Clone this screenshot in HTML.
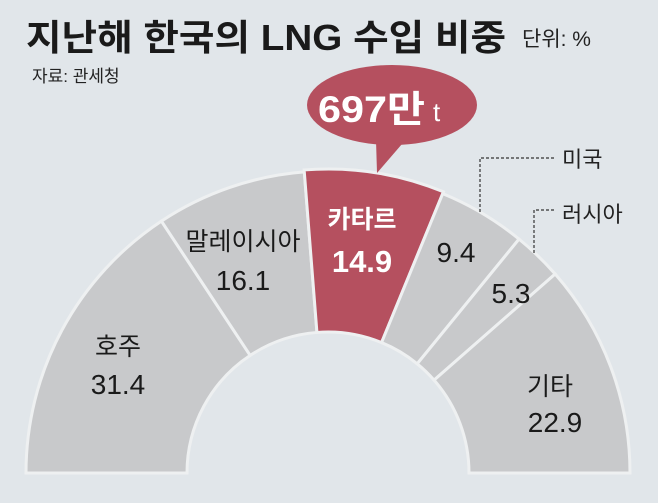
<!DOCTYPE html>
<html><head><meta charset="utf-8"><style>
html,body{margin:0;padding:0;background:#e1e6ea;}
svg{display:block;}
text{font-family:"Liberation Sans","Noto Sans CJK KR",sans-serif;}
</style></head><body>
<svg width="658" height="503" viewBox="0 0 658 503" xmlns="http://www.w3.org/2000/svg">
<rect width="658" height="503" fill="#e1e6ea"/>
<text x="26" y="50" font-size="36" font-weight="bold" fill="#1a1a1a" textLength="480" lengthAdjust="spacingAndGlyphs">지난해 한국의 LNG 수입 비중</text>
<text x="522" y="46" font-size="21" fill="#222">단위: %</text>
<text x="32" y="82" font-size="17" fill="#222">자료: 관세청</text>
<g id="segs" stroke="#eef0f1" stroke-width="3" stroke-linejoin="miter"></g>
<path d="M376,140 L377,173 L402,144 Z" fill="#b5505f"/>
<ellipse cx="392" cy="105" rx="85" ry="40" fill="#b5505f"/>
<text x="318" y="122" font-size="37" font-weight="bold" fill="#fff" textLength="107" lengthAdjust="spacingAndGlyphs">697만</text>
<text x="433" y="121" font-size="26" fill="#fff">t</text>
<g fill="none" stroke="#333" stroke-width="1.2" stroke-dasharray="3,2">
<path d="M480,212 V158 H556"/>
<path d="M534,253 V210 H556"/>
</g>
<text x="562" y="167" font-size="22" fill="#222">미국</text>
<text x="562" y="222" font-size="22" fill="#222">러시아</text>
<g font-size="25" fill="#1a1a1a" text-anchor="middle">
<text x="118" y="355">호주</text>
<text x="118" y="394" font-size="28">31.4</text>
<text x="243" y="250">말레이시아</text>
<text x="243" y="290" font-size="28">16.1</text>
<text x="362" y="228" fill="#fff" font-weight="bold">카타르</text>
<text x="362" y="272" fill="#fff" font-weight="bold" font-size="31">14.9</text>
<text x="456" y="262" font-size="28">9.4</text>
<text x="511" y="303" font-size="28">5.3</text>
<text x="550" y="395">기타</text>
<text x="555" y="432" font-size="28">22.9</text>
</g>
<script>
(function(){
var cx=328,cy=473,R=302,r=141;
var vals=[31.4,16.1,14.9,9.4,5.3,22.9];
var tot=0;vals.forEach(function(v){tot+=v});
var a=180,g=document.getElementById('segs'),ns='http://www.w3.org/2000/svg';
vals.forEach(function(v,i){
 var b=a-v/tot*180;
 var ra=a*Math.PI/180,rb=b*Math.PI/180;
 var RR=(i==2)?R+2:R;
 var d='M'+(cx+RR*Math.cos(ra))+','+(cy-RR*Math.sin(ra))+
 ' A'+RR+','+RR+' 0 0 1 '+(cx+RR*Math.cos(rb))+','+(cy-RR*Math.sin(rb))+
 ' L'+(cx+r*Math.cos(rb))+','+(cy-r*Math.sin(rb))+
 ' A'+r+','+r+' 0 0 0 '+(cx+r*Math.cos(ra))+','+(cy-r*Math.sin(ra))+' Z';
 var p=document.createElementNS(ns,'path');
 p.setAttribute('d',d);p.setAttribute('fill',i==2?'#b5505f':'#c8c9cb');
 g.appendChild(p);a=b;
});
})();
</script>
</svg>
</body></html>
